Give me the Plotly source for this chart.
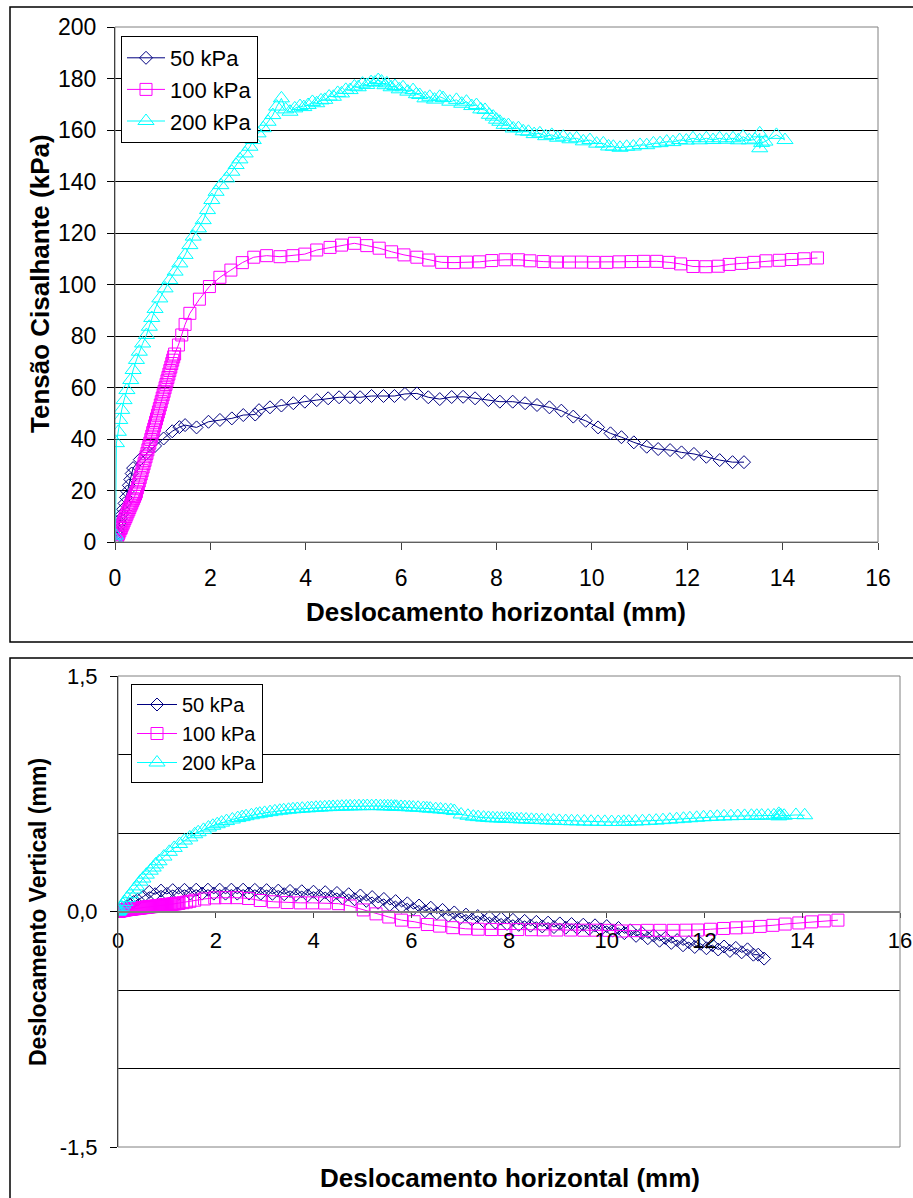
import plotly.graph_objects as go

# ---------------- data ----------------
series_names = ["50 kPa", "100 kPa", "200 kPa"]
x_ticks = [0, 2, 4, 6, 8, 10, 12, 14, 16]
v_tick_vals = [-1.5, 0.0, 1.5]
v_tick_text = ["-1,5", "0,0", "1,5"]

# 50 kPa - shear stress
h50 = [0.00, 0.02, 0.04, 0.06, 0.08, 0.10, 0.12, 0.14, 0.17, 0.20,
       0.23, 0.26, 0.29, 0.32, 0.35, 0.38, 0.52, 0.66, 0.84, 1.02,
       1.20, 1.35, 1.47, 1.71, 1.96, 2.20, 2.45, 2.69, 2.94, 3.02,
       3.25, 3.49, 3.74, 3.98, 4.23, 4.47, 4.70, 4.93, 5.14, 5.38,
       5.63, 5.86, 6.08, 6.33, 6.57, 6.81, 7.06, 7.30, 7.55, 7.83,
       8.07, 8.34, 8.60, 8.85, 9.11, 9.36, 9.61, 9.87, 10.13, 10.39,
       10.62, 10.88, 11.15, 11.39, 11.64, 11.88, 12.14, 12.40, 12.68, 12.95,
       13.19]
tau50 = [0.0, 1.5, 3.2, 4.6, 6.1, 7.6, 9.0, 10.6, 12.7, 15.0,
         17.3, 19.6, 22.0, 24.3, 26.6, 28.7, 32.0, 34.4, 37.3, 40.2,
         43.0, 44.6, 45.4, 44.5, 46.7, 47.4, 48.0, 49.3, 49.5, 51.2,
         52.3, 53.0, 53.9, 54.5, 55.1, 55.8, 56.2, 56.2, 56.2, 56.7,
         56.7, 56.7, 57.5, 57.7, 56.2, 55.5, 56.3, 56.4, 55.8, 55.1,
         54.5, 54.5, 53.9, 53.2, 52.3, 51.0, 48.7, 47.1, 44.5, 42.2,
         40.7, 38.7, 37.0, 36.1, 35.7, 34.8, 34.2, 33.1, 31.8, 31.0,
         31.0]

# 50 kPa - vertical displacement
h50v = [0.00, 0.08, 0.16, 0.24, 0.32, 0.40, 0.52, 0.64, 0.76, 0.88,
        1.00, 1.12, 1.24, 1.36, 1.48, 1.60, 1.72, 1.84, 1.96, 2.08,
        2.20, 2.32, 2.44, 2.56, 2.68, 2.80, 2.92, 3.04, 3.16, 3.28,
        3.40, 3.52, 3.64, 3.76, 3.88, 4.00, 4.12, 4.24, 4.36, 4.48,
        4.60, 4.72, 4.84, 4.96, 5.08, 5.20, 5.32, 5.44, 5.56, 5.68,
        5.80, 5.92, 6.04, 6.16, 6.28, 6.40, 6.52, 6.64, 6.76, 6.88,
        7.00, 7.12, 7.24, 7.36, 7.48, 7.60, 7.72, 7.84, 7.96, 8.08,
        8.20, 8.32, 8.44, 8.56, 8.68, 8.80, 8.92, 9.04, 9.16, 9.28,
        9.40, 9.52, 9.64, 9.76, 9.88, 10.00, 10.12, 10.24, 10.36, 10.48,
        10.60, 10.72, 10.84, 10.96, 11.08, 11.20, 11.32, 11.44, 11.56, 11.68,
        11.80, 11.92, 12.04, 12.16, 12.28, 12.40, 12.52, 12.64, 12.76, 12.88,
        13.00, 13.10, 13.22]
v50 = [0.000, 0.015, 0.030, 0.045, 0.060, 0.075, 0.095, 0.125, 0.110, 0.133,
       0.112, 0.136, 0.113, 0.138, 0.114, 0.139, 0.114, 0.139, 0.114, 0.139,
       0.114, 0.139, 0.114, 0.139, 0.114, 0.138, 0.114, 0.136, 0.113, 0.133,
       0.110, 0.131, 0.106, 0.129, 0.103, 0.126, 0.099, 0.123, 0.094, 0.118,
       0.085, 0.110, 0.078, 0.102, 0.068, 0.092, 0.056, 0.080, 0.042, 0.066,
       0.030, 0.052, 0.016, 0.038, 0.002, 0.024, -0.012, 0.010, -0.026, -0.006,
       -0.042, -0.020, -0.052, -0.029, -0.061, -0.037, -0.070, -0.045, -0.079, -0.053,
       -0.085, -0.060, -0.090, -0.066, -0.095, -0.071, -0.099, -0.076, -0.103, -0.080,
       -0.106, -0.084, -0.110, -0.088, -0.114, -0.093, -0.122, -0.105, -0.138, -0.120,
       -0.155, -0.138, -0.170, -0.153, -0.186, -0.168, -0.200, -0.182, -0.215, -0.195,
       -0.226, -0.205, -0.234, -0.214, -0.242, -0.223, -0.251, -0.232, -0.260, -0.241,
       -0.275, -0.275, -0.300]

# 100 kPa
h100 = [0.00, 0.01, 0.02, 0.04, 0.05, 0.07, 0.08, 0.10, 0.12, 0.13,
        0.15, 0.17, 0.19, 0.21, 0.23, 0.25, 0.27, 0.29, 0.31, 0.33,
        0.35, 0.37, 0.39, 0.41, 0.43, 0.45, 0.47, 0.49, 0.51, 0.53,
        0.55, 0.57, 0.59, 0.61, 0.63, 0.65, 0.67, 0.69, 0.71, 0.73,
        0.75, 0.77, 0.79, 0.81, 0.83, 0.85, 0.87, 0.89, 0.91, 0.93,
        0.95, 0.97, 0.99, 1.01, 1.03, 1.05, 1.07, 1.09, 1.11, 1.13,
        1.15, 1.17, 1.19, 1.21, 1.23, 1.25, 1.33, 1.40, 1.47, 1.57,
        1.77, 1.98, 2.20, 2.43, 2.67, 2.91, 3.18, 3.46, 3.73, 3.98,
        4.23, 4.51, 4.75, 5.02, 5.28, 5.54, 5.80, 6.06, 6.33, 6.58,
        6.85, 7.11, 7.37, 7.64, 7.90, 8.18, 8.46, 8.70, 8.98, 9.26,
        9.53, 9.78, 10.04, 10.31, 10.57, 10.83, 11.09, 11.36, 11.62, 11.86,
        12.12, 12.39, 12.65, 12.88, 13.14, 13.40, 13.65, 13.93, 14.19, 14.45,
        14.73]
tau100 = [0.0, 0.4, 0.9, 1.7, 2.2, 3.0, 3.5, 4.3, 5.2, 5.6,
          6.5, 7.3, 8.2, 9.1, 9.9, 10.8, 11.7, 12.5, 13.4, 14.3,
          15.1, 16.0, 16.8, 17.7, 18.6, 19.5, 21.0, 22.4, 23.7, 25.0,
          26.4, 27.7, 29.1, 30.4, 31.7, 33.1, 34.4, 35.8, 37.1, 38.4,
          39.8, 41.1, 42.5, 43.8, 45.1, 46.5, 47.8, 49.2, 50.5, 51.8,
          53.2, 54.5, 55.9, 57.2, 58.5, 59.9, 61.2, 62.6, 63.9, 65.2,
          66.6, 67.9, 69.3, 70.6, 71.9, 73.0, 76.5, 80.4, 84.5, 88.8,
          94.3, 99.2, 102.8, 105.6, 108.5, 110.6, 111.2, 110.8, 111.2, 111.8,
          113.4, 114.4, 115.3, 116.0, 115.1, 114.1, 112.7, 111.5, 110.6, 109.5,
          108.6, 108.5, 108.7, 108.8, 109.3, 109.6, 109.6, 109.2, 108.9, 108.7,
          108.7, 108.7, 108.6, 108.6, 108.8, 108.9, 109.0, 109.0, 108.6, 108.0,
          107.0, 106.9, 107.1, 107.8, 108.2, 108.6, 109.2, 109.4, 109.7, 110.0,
          110.3]
v100 = [0.000, 0.001, 0.002, 0.003, 0.004, 0.005, 0.006, 0.007, 0.008, 0.009,
        0.010, 0.011, 0.012, 0.013, 0.013, 0.014, 0.015, 0.016, 0.017, 0.018,
        0.018, 0.019, 0.020, 0.021, 0.022, 0.022, 0.023, 0.024, 0.025, 0.025,
        0.026, 0.027, 0.028, 0.028, 0.029, 0.030, 0.031, 0.031, 0.032, 0.033,
        0.034, 0.034, 0.035, 0.036, 0.037, 0.037, 0.038, 0.039, 0.040, 0.040,
        0.041, 0.042, 0.043, 0.043, 0.044, 0.045, 0.046, 0.046, 0.047, 0.048,
        0.049, 0.049, 0.050, 0.051, 0.052, 0.052, 0.056, 0.060, 0.065, 0.072,
        0.080, 0.087, 0.088, 0.088, 0.083, 0.070, 0.062, 0.057, 0.055, 0.055,
        0.054, 0.050, 0.035, 0.010, -0.015, -0.035, -0.055, -0.065, -0.083, -0.093,
        -0.103, -0.110, -0.113, -0.115, -0.115, -0.115, -0.116, -0.117, -0.118, -0.118,
        -0.119, -0.119, -0.120, -0.124, -0.122, -0.120, -0.120, -0.120, -0.119, -0.118,
        -0.113, -0.108, -0.104, -0.100, -0.095, -0.088, -0.080, -0.073, -0.066, -0.060,
        -0.055]

# 200 kPa
h200 = [0.00, 0.00, 0.01, 0.03, 0.07, 0.10, 0.14, 0.19, 0.25, 0.33,
        0.38, 0.45, 0.51, 0.58, 0.66, 0.72, 0.77, 0.84, 0.94, 1.05,
        1.15, 1.26, 1.36, 1.47, 1.57, 1.64, 1.75, 1.85, 1.94, 2.03,
        2.12, 2.22, 2.34, 2.45, 2.54, 2.62, 2.73, 2.83, 2.90, 3.00,
        3.11, 3.21, 3.31, 3.39, 3.49, 3.58, 3.67, 3.77, 3.88, 3.96,
        4.05, 4.14, 4.23, 4.32, 4.40, 4.49, 4.58, 4.67, 4.75, 4.84,
        4.93, 5.02, 5.10, 5.19, 5.28, 5.37, 5.45, 5.52, 5.59, 5.66,
        5.70, 5.79, 5.87, 5.96, 6.04, 6.14, 6.25, 6.32, 6.39, 6.50,
        6.60, 6.70, 6.81, 6.88, 7.02, 7.16, 7.27, 7.37, 7.48, 7.58,
        7.67, 7.76, 7.85, 7.93, 8.00, 8.07, 8.16, 8.25, 8.35, 8.46,
        8.56, 8.67, 8.79, 8.91, 9.03, 9.16, 9.28, 9.40, 9.54, 9.68,
        9.82, 9.96, 10.10, 10.24, 10.35, 10.45, 10.59, 10.73, 10.87, 11.01,
        11.15, 11.29, 11.43, 11.57, 11.70, 11.84, 11.98, 12.12, 12.26, 12.40,
        12.54, 12.68, 12.82, 12.96, 13.07, 13.17, 13.30, 13.42, 13.52, 13.52,
        13.56, 13.63, 13.87, 14.05]
tau200 = [0.0, 1.0, 2.5, 38.4, 42.8, 47.4, 51.3, 55.1, 59.0, 62.9,
          66.8, 70.7, 73.9, 77.1, 80.4, 83.6, 87.0, 90.5, 94.6, 98.5,
          101.7, 105.0, 108.2, 111.5, 115.3, 118.6, 121.8, 125.0, 128.9, 132.8,
          136.0, 138.6, 141.2, 143.8, 146.4, 148.6, 150.9, 153.5, 156.1, 158.7,
          160.7, 163.2, 165.8, 169.1, 172.3, 168.0, 167.1, 168.4, 169.3, 168.9,
          169.7, 170.9, 170.4, 171.5, 171.7, 173.0, 172.9, 174.4, 174.2, 175.6,
          175.5, 176.9, 176.6, 178.0, 177.5, 178.6, 178.4, 179.4, 178.8, 177.4,
          178.1, 176.6, 177.1, 175.8, 176.6, 174.9, 175.5, 173.9, 173.6, 172.3,
          172.9, 171.8, 172.9, 172.4, 171.0, 171.7, 170.2, 171.0, 169.3, 169.7,
          168.0, 167.8, 165.9, 165.2, 164.0, 163.2, 162.0, 161.9, 160.6, 160.7,
          159.5, 159.3, 158.4, 158.7, 157.6, 158.1, 157.0, 157.4, 156.4, 156.8,
          155.6, 156.1, 154.7, 154.8, 153.6, 153.5, 153.1, 153.5, 153.6, 154.2,
          154.1, 154.8, 154.9, 155.5, 155.3, 156.1, 155.9, 156.8, 156.0, 156.8,
          156.1, 156.8, 156.2, 156.8, 156.0, 157.4, 156.0, 156.3, 158.7, 152.9,
          155.0, 155.5, 158.1, 156.1]
v200 = [0.000, 0.000, 0.003, 0.010, 0.030, 0.045, 0.060, 0.085, 0.110, 0.140,
        0.160, 0.190, 0.210, 0.235, 0.260, 0.280, 0.300, 0.320, 0.350, 0.380,
        0.405, 0.430, 0.452, 0.472, 0.492, 0.505, 0.520, 0.535, 0.546, 0.556,
        0.566, 0.576, 0.586, 0.595, 0.601, 0.607, 0.613, 0.619, 0.623, 0.628,
        0.633, 0.638, 0.642, 0.645, 0.648, 0.651, 0.653, 0.655, 0.657, 0.659,
        0.661, 0.662, 0.664, 0.665, 0.666, 0.667, 0.668, 0.669, 0.670, 0.670,
        0.671, 0.671, 0.672, 0.671, 0.672, 0.671, 0.670, 0.670, 0.669, 0.668,
        0.667, 0.666, 0.665, 0.664, 0.662, 0.661, 0.659, 0.657, 0.655, 0.652,
        0.650, 0.647, 0.645, 0.640, 0.618, 0.610, 0.604, 0.601, 0.598, 0.596,
        0.594, 0.593, 0.592, 0.591, 0.590, 0.589, 0.588, 0.587, 0.586, 0.584,
        0.583, 0.582, 0.580, 0.579, 0.577, 0.576, 0.575, 0.574, 0.573, 0.572,
        0.571, 0.571, 0.570, 0.570, 0.571, 0.572, 0.573, 0.575, 0.577, 0.579,
        0.582, 0.585, 0.588, 0.591, 0.594, 0.597, 0.600, 0.602, 0.604, 0.606,
        0.607, 0.608, 0.609, 0.610, 0.610, 0.611, 0.611, 0.612, 0.622, 0.606,
        0.613, 0.610, 0.615, 0.613]

# ---------------- styling ----------------
W, H = 913, 1198
FONT = "Liberation Sans, Arial, sans-serif"
colors = ["#000080", "#FF00FF", "#00FFFF"]
symbols = ["diamond-open", "square-open", "triangle-up-open"]
msizes = [10, 12, 14]


def px_x(p):
    return p / W


def px_y(p):
    return 1 - p / H


fig = go.Figure()

top_sets = [(h50, tau50), (h100, tau100), (h200, tau200)]
bot_sets = [(h50v, v50), (h100, v100), (h200, v200)]

for i, (xs, ys) in enumerate(top_sets):
    fig.add_trace(go.Scatter(
        x=xs, y=ys, mode="lines+markers", name=series_names[i],
        xaxis="x", yaxis="y", legend="legend",
        line=dict(color=colors[i], width=1),
        marker=dict(symbol=symbols[i], size=msizes[i], color=colors[i],
                    line=dict(color=colors[i], width=1)),
    ))

for i, (xs, ys) in enumerate(bot_sets):
    fig.add_trace(go.Scatter(
        x=xs, y=ys, mode="lines+markers", name=series_names[i],
        xaxis="x2", yaxis="y2", legend="legend2",
        line=dict(color=colors[i], width=1),
        marker=dict(symbol=symbols[i], size=msizes[i], color=colors[i],
                    line=dict(color=colors[i], width=1)),
    ))

fig.update_layout(
    width=W, height=H, autosize=False,
    margin=dict(l=0, r=0, t=0, b=0, pad=0, autoexpand=False),
    paper_bgcolor="white", plot_bgcolor="white",
    font=dict(family=FONT, color="black"),
    showlegend=True,
    xaxis=dict(
        domain=[px_x(115), px_x(878)], anchor="y", range=[0, 16],
        tickvals=x_ticks, showgrid=False, zeroline=False, automargin=False,
        showline=True, linecolor="#404040", linewidth=1,
        ticks="outside", ticklen=7, tickcolor="#404040",
        tickfont=dict(size=23, family=FONT), ticklabelstandoff=8,
    ),
    yaxis=dict(
        domain=[px_y(542), px_y(27)], anchor="x", range=[0, 200], dtick=20,
        showgrid=True, gridcolor="black", gridwidth=1, zeroline=False,
        automargin=False,
        showline=True, linecolor="black", linewidth=1,
        ticks="outside", ticklen=7, tickcolor="black",
        tickfont=dict(size=23, family=FONT), ticklabelstandoff=6,
    ),
    xaxis2=dict(
        domain=[px_x(118), px_x(900)], anchor="free", position=px_y(912),
        range=[0, 16], tickvals=x_ticks, showgrid=False, zeroline=False,
        automargin=False,
        showline=True, linecolor="#808080", linewidth=2,
        ticks="outside", ticklen=5, tickcolor="#404040",
        tickfont=dict(size=22, family=FONT), ticklabelstandoff=4,
    ),
    yaxis2=dict(
        domain=[px_y(1147), px_y(676)], anchor="x2", range=[-1.5, 1.5],
        tickvals=v_tick_vals, ticktext=v_tick_text,
        showgrid=False, zeroline=False, automargin=False,
        minor=dict(tick0=0, dtick=0.5, showgrid=True, gridcolor="black",
                   gridwidth=1, ticks=""),
        showline=True, linecolor="black", linewidth=1,
        ticks="outside", ticklen=7, tickcolor="black",
        tickfont=dict(size=22, family=FONT), ticklabelstandoff=8,
    ),
    legend=dict(
        x=px_x(121), y=px_y(36), xanchor="left", yanchor="top",
        bgcolor="white", bordercolor="black", borderwidth=1,
        font=dict(size=22, family=FONT), tracegroupgap=0, itemwidth=38,
    ),
    legend2=dict(
        x=px_x(131), y=px_y(684), xanchor="left", yanchor="top",
        bgcolor="white", bordercolor="black", borderwidth=1,
        font=dict(size=20, family=FONT), tracegroupgap=0, itemwidth=40,
    ),
)

# plot-area borders and chart frames
fig.add_shape(type="rect", xref="x domain", yref="y domain", x0=0, x1=1, y0=0, y1=1,
              line=dict(color="#808080", width=1), layer="above")
fig.add_shape(type="rect", xref="x2 domain", yref="y2 domain", x0=0, x1=1, y0=0, y1=1,
              line=dict(color="#808080", width=1), layer="above")
fig.add_shape(type="rect", xref="paper", yref="paper",
              x0=px_x(10), x1=px_x(930), y0=px_y(642), y1=px_y(7),
              line=dict(color="black", width=1.5), layer="above")
fig.add_shape(type="rect", xref="paper", yref="paper",
              x0=px_x(10), x1=px_x(930), y0=px_y(1215), y1=px_y(658),
              line=dict(color="black", width=1.5), layer="above")

# axis titles
titles = [
    ("Tensão Cisalhante (kPa)", 40, 284, -90, 26),
    ("Deslocamento horizontal (mm)", 496, 612, 0, 26),
    ("Deslocamento Vertical (mm)", 38, 912, -90, 23),
    ("Deslocamento horizontal (mm)", 510, 1178, 0, 26),
]
for text, tx, ty, ang, sz in titles:
    fig.add_annotation(text=text, xref="paper", yref="paper",
                       x=px_x(tx), y=px_y(ty), xanchor="center", yanchor="middle",
                       textangle=ang, showarrow=False,
                       font=dict(size=sz, family=FONT, color="black", weight="bold"))

fig.write_html(
    "out.html",
    config={"displayModeBar": False},
    post_script="document.body.style.margin='0';document.body.style.overflow='hidden';",
)
